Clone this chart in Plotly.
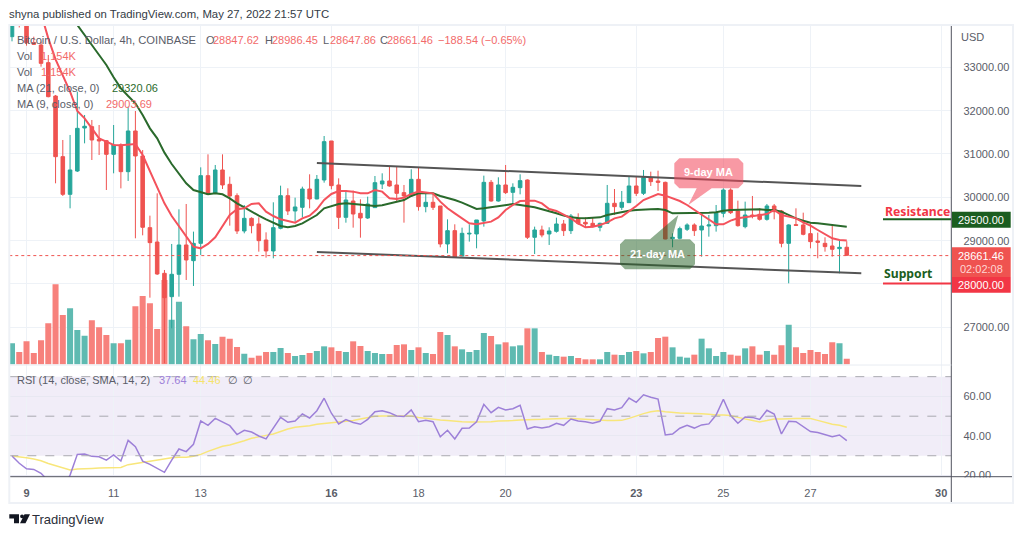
import plotly.graph_objects as go

# Candle data (4h candles, Coinbase BTC/USD)
OPEN = [33708,34600,34000,33569,33515,33108,32338,30939,30069,30607,31600,31631,31340,31308,30992,31208,30592,31531,30954,29300,
28969,28246,27707,28223,28900,28538,28938,30500,30092,30631,30300,30038,29223,29515,29385,29015,28762,29285,30038,29685,
29769,30192,29962,30400,31300,30285,29538,29915,29631,29523,29762,30308,30377,30285,30108,30038,30415,29785,29885,29800,
28923,29231,28646,29154,29154,29454,30346,29915,30285,30115,30223,30400,29077,29246,29154,29215,29385,29231,29515,29423,
29400,29308,29400,29862,29769,29877,30262,30092,30454,30377,30346,29046,29054,29262,29362,29246,29338,29346,29631,30169,
29685,29323,29592,29608,29492,29800,29685,28938,29369,29362,29162,28992,28938,28877,28815,28847.62]
HIGH = [34800,34800,34100,33708,33592,33285,32362,31323,31439,32438,31900,31785,31669,31323,31669,31246,32092,31992,31092,29577,
30092,28323,28923,29723,29846,29208,30692,30992,30746,30992,30477,30092,29823,29538,29538,29192,29885,30269,30208,29992,
30246,30531,30515,31415,31300,30438,30169,30154,29954,30015,30492,30554,30723,30723,30285,30646,30685,30092,30092,29800,
29492,29377,29300,29377,29477,30500,30400,30462,30746,30323,30531,30415,29323,29346,29308,29531,29477,29615,29631,29538,
29531,29415,30285,30192,30146,30477,30477,30631,30592,30615,30362,29169,29323,29400,29400,29646,29592,29823,30208,30208,
29923,29900,30031,29746,29846,29846,29708,29377,29746,29646,29400,29185,29077,29338,29015,28986.45]
LOW = [33600,33920,33500,33515,33015,32308,30323,30031,29746,30584,31246,30861,30977,30169,30554,30207,30377,29054,29123,27684,
28208,26169,26977,27707,28092,27954,28669,30054,30077,30192,29346,29154,29169,29169,28746,28608,28592,29262,29592,29438,
29538,29746,29954,30338,30185,29269,29415,29300,29069,29500,29762,30192,30246,29900,29415,30038,29692,29654,29708,28846,
28708,28600,28646,28977,28823,29323,29900,29900,30077,29862,30069,29038,28692,29077,28900,29185,29108,29154,29361,29300,
29308,29215,29385,29592,29708,29877,30031,30054,30262,30146,29031,28846,29031,29223,29108,28631,29092,29208,29538,29615,
29323,29285,29515,29462,29462,29492,28846,28015,29338,29123,28823,28592,28746,28631,28246,28647.86]
CLOSE = [34600,34000,33569,33530,33092,32323,30938,30069,30631,31592,31640,31323,31300,30992,31208,30592,31531,30954,29308,28954,
28231,27684,28223,28900,28554,28938,30500,30069,30631,30285,30031,29223,29515,29346,29000,28762,29300,30038,29685,29777,
30192,29962,30415,31285,30269,29538,29938,29615,29523,29846,30338,30377,30262,30092,30031,30415,29785,29885,29769,28923,
29231,28615,29169,29169,29477,30346,29915,30285,30108,30231,30385,29077,29246,29131,29223,29385,29231,29569,29400,29385,
29323,29400,29862,29785,29885,30262,30092,30454,30362,30346,29038,29077,29277,29362,29231,29338,29362,29646,30169,29646,
29346,29592,29569,29492,29800,29669,28938,29362,29354,29146,28977,28962,28862,28800,28846,28661.46]

# Volume bars, in units of about 68 BTC
VOLUME = [63,37,69,34,72,123,240,148,168,103,86,132,111,88,63,63,74,174,205,183,
106,253,134,188,114,75,91,72,61,83,77,52,32,20,26,37,37,49,34,25,
28,34,40,54,51,40,37,69,55,40,34,31,31,58,60,43,51,34,31,97,
88,54,45,37,43,94,85,60,66,54,57,108,108,37,29,25,23,25,19,15,
15,15,37,29,28,37,40,33,37,79,83,51,23,20,29,77,48,25,37,29,
26,48,54,29,40,29,57,119,51,34,43,37,31,66,63,17]

MA9 = [None,None,None,None,34246,33669,33185,32823,32438,31992,31823,31592,31361,31284,31208,31200,31223,31231,30977,30592,
30208,29861,29569,29323,29092,28861,28823,28923,29077,29338,29592,29723,29746,29846,29861,29669,29569,29492,29454,29415,
29515,29577,29723,29938,30077,30146,30146,30131,30092,30092,30169,30131,29977,29962,29992,30077,30131,30115,30092,29900,
29746,29631,29515,29400,29377,29415,29438,29538,29708,29823,29915,29923,29923,29861,29731,29685,29592,29515,29400,29308,
29323,29361,29423,29515,29554,29669,29800,29938,30015,30077,30038,29977,29915,29823,29708,29592,29477,29377,29377,29461,
29515,29538,29554,29577,29615,29708,29592,29554,29515,29423,29346,29246,29154,29054,29015,29003.69]
MA21 = [None,None,None,None,None,None,None,None,34208,33969,33746,33515,33285,33054,32769,32515,32338,32169,31900,31592,
31362,31031,30769,30538,30323,30169,30115,30069,30092,30069,29977,29861,29769,29669,29577,29492,29415,29338,29308,29338,
29400,29492,29592,29746,29800,29846,29861,29846,29823,29808,29800,29815,29861,29900,29938,30031,30092,30092,30092,30031,
29992,29938,29877,29800,29731,29746,29769,29785,29823,29846,29823,29800,29769,29723,29685,29631,29577,29538,29523,29515,
29531,29538,29592,29631,29669,29692,29708,29723,29723,29731,29708,29631,29631,29631,29631,29631,29646,29654,29692,29708,
29715,29723,29723,29723,29708,29708,29669,29592,29515,29461,29415,29400,29377,29361,29338,29320.06]

RSI = [29.9,26.2,23.4,23.1,21.1,16.9,13.5,13.5,20.2,30.7,30.9,29.7,29.5,27.8,30.4,27.3,37.8,34.6,27.3,25.6,
23.4,21.6,27.8,33.4,32.1,35.8,47.6,45.4,48.9,47.1,45.2,40.7,42.9,42.0,40.0,38.5,43.9,49.4,46.9,47.6,
51.1,49.1,52.8,59.1,51.5,46.1,48.3,46.8,45.9,48.4,52.3,52.7,51.8,50.1,49.8,53.2,47.2,47.9,47.2,39.6,
42.9,38.5,43.9,44.0,47.2,56.0,51.8,54.5,53.2,53.8,55.5,43.5,44.7,44.0,44.7,46.4,45.4,48.6,47.6,47.2,
46.4,47.4,53.8,53.2,54.3,59.2,57.0,60.8,59.6,58.7,40.5,41.0,43.9,45.4,44.0,45.6,46.1,50.6,58.6,50.3,
46.4,49.6,49.4,48.4,53.0,51.1,41.0,47.4,47.2,44.7,42.2,41.8,40.7,39.6,40.5,37.64]
RSI_SMA = [29.9,29.5,29.0,28.3,27.5,26.1,25.0,23.6,22.8,23.3,23.6,23.6,23.8,23.8,24.0,24.1,25.5,26.1,26.7,27.2,
27.8,28.5,29.0,29.2,29.2,29.7,30.7,32.2,33.7,34.8,35.4,36.4,37.6,38.8,39.7,40.3,41.0,42.4,43.5,44.4,
44.7,45.2,45.9,46.4,46.7,47.1,47.4,47.8,48.6,49.4,50.0,50.1,50.1,50.1,50.1,50.1,49.4,48.9,48.4,48.1,
47.8,47.4,47.2,47.1,47.1,47.1,47.2,47.6,47.6,47.8,48.1,48.1,48.1,48.4,48.6,48.8,48.9,48.8,48.6,48.3,
47.9,47.8,47.8,47.8,47.9,48.9,50.3,51.3,52.3,52.8,52.3,51.8,51.6,51.5,51.5,51.3,51.0,50.6,50.6,50.3,
49.4,48.6,47.8,47.1,47.8,48.6,48.6,48.8,48.8,48.8,48.8,47.9,46.7,45.9,45.4,44.46]

# Channel trend lines
CHANNEL_X = [42, 117]
CHANNEL_UPPER = [30792, 30261]
CHANNEL_LOWER = [28738, 28247]

DAY_TICKS = [2, 14, 26, 44, 56, 68, 86, 98, 110, 128]
DAY_LABELS = ["<b>9</b>", "11", "13", "<b>16</b>", "18", "20", "<b>23</b>", "25", "27", "<b>30</b>"]
PRICE_TICKS = [27000, 28000, 29000, 30000, 31000, 32000, 33000]
PRICE_LABELED = [27000, 29000, 30000, 31000, 32000, 33000]
RSI_TICKS = [20, 40, 60]

UP = "#26a69a"; DOWN = "#ef5350"; UP_V = "#5fbab1"; DOWN_V = "#f7817c"
GRID = "#eef2f7"; AXIS = "#50535e"; TXT = "#5a5d68"; GREEN = "#1b5e20"; RED = "#f23645"
FONT = "Liberation Sans"

W, H = 1024, 536
PL, PR, PT, PV, PB, PF = 9.3, 951.3, 25, 365, 476.7, 503
def px(x): return x / W
def py(y): return 1 - y / H

idx = list(range(len(CLOSE)))
colors = [UP_V if c >= o else DOWN_V for o, c in zip(OPEN, CLOSE)]

fig = go.Figure()
fig.add_trace(go.Bar(x=idx, y=VOLUME, marker=dict(color=colors, line_width=0), xaxis="x", yaxis="y", showlegend=False))
fig.add_trace(go.Scatter(x=CHANNEL_X, y=CHANNEL_UPPER, mode="lines", line=dict(color="#555555", width=2), xaxis="x", yaxis="y2", showlegend=False))
fig.add_trace(go.Scatter(x=CHANNEL_X, y=CHANNEL_LOWER, mode="lines", line=dict(color="#555555", width=2), xaxis="x", yaxis="y2", showlegend=False))
fig.add_trace(go.Candlestick(x=idx, open=OPEN, high=HIGH, low=LOW, close=CLOSE, xaxis="x", yaxis="y2", showlegend=False,
    increasing=dict(line=dict(color=UP, width=1), fillcolor=UP),
    decreasing=dict(line=dict(color=DOWN, width=1), fillcolor=DOWN)))
fig.add_trace(go.Scatter(x=idx, y=MA21, mode="lines", line=dict(color="#2a6a2c", width=2), xaxis="x", yaxis="y2", showlegend=False, connectgaps=False))
fig.add_trace(go.Scatter(x=idx, y=MA9, mode="lines", line=dict(color="#f4525c", width=2), xaxis="x", yaxis="y2", showlegend=False, connectgaps=False))
fig.add_trace(go.Scatter(x=idx, y=RSI_SMA, mode="lines", line=dict(color="#f8e67a", width=1.5), xaxis="x2", yaxis="y3", showlegend=False))
fig.add_trace(go.Scatter(x=idx, y=RSI, mode="lines", line=dict(color="#9d80d8", width=1.5), xaxis="x2", yaxis="y3", showlegend=False))

xrange = [-0.372, 129.4]
shapes = []
def rect(x0, y0, x1, y1, fill, layer="above"):
    shapes.append(dict(type="rect", xref="paper", yref="paper", x0=px(x0), x1=px(x1), y0=py(y0), y1=py(y1),
                       fillcolor=fill, line_width=0, layer=layer))
def hline(x0, x1, y, color, width=1, dash="solid", layer="above"):
    shapes.append(dict(type="line", xref="paper", yref="paper", x0=px(x0), x1=px(x1), y0=py(y), y1=py(y),
                       line=dict(color=color, width=width, dash=dash), layer=layer))
def vline(x, y0, y1, color, width=1):
    shapes.append(dict(type="line", xref="paper", yref="paper", x0=px(x), x1=px(x), y0=py(y0), y1=py(y1),
                       line=dict(color=color, width=width), layer="above"))
def path(points, fill, extra=""):
    d = "M" + " L".join(f"{px(a):.5f},{py(b):.5f}" for a, b in points) + " Z"
    shapes.append(dict(type="path", xref="paper", yref="paper", path=d, fillcolor=fill, line_width=0, layer="above"))

# RSI band and levels
shapes.append(dict(type="rect", xref="x2", yref="y3", x0=xrange[0], x1=xrange[1], y0=30, y1=70,
                   fillcolor="rgba(126,87,194,0.11)", line_width=0, layer="below"))
for lv in (70, 50, 30):
    shapes.append(dict(type="line", xref="x2", yref="y3", x0=xrange[0], x1=xrange[1], y0=lv, y1=lv,
                       line=dict(color="#a9a9b0", width=1, dash="dash"), layer="above"))
# last price dotted line
hline(PL, PR, 255.6, "#ef5350", 1, "dot")
# Resistance / support rules
hline(883, PR, 219.2, GREEN, 2)
hline(883, PR, 283.4, RED, 2)

# callouts
def rounded(x0, y0, x1, y1, r, fill, tail):
    # tail: (base_left_x, base_right_x, tip_x, tip_y, base_y)
    bl, br, tx, ty, by = tail
    pts = [(x0 + r, y0)]
    if by == y0:
        pts += [(bl, y0), (tx, ty), (br, y0)]
    pts += [(x1 - r, y0), (x1, y0 + r), (x1, y1 - r), (x1 - r, y1)]
    if by == y1:
        pts += [(br, y1), (tx, ty), (bl, y1)]
    pts += [(x0 + r, y1), (x0, y1 - r), (x0, y0 + r)]
    path(pts, fill)
rounded(674.3, 158.3, 743.3, 188.3, 5, "rgba(242,70,90,0.55)", (696.7, 711.7, 688.3, 205, 188.3))
rounded(620, 239.3, 695, 269.3, 5, "rgba(40,100,40,0.52)", (650, 671.7, 678.3, 215, 239.3))

# hide lower half of the clipped 20.00 label, frame, axes
rect(952, 477.5, 1012, 502, "#ffffff")
hline(PL, 1013, PB, AXIS, 1)
vline(PR, PT, PF, AXIS, 1)
hline(PL, PR, PV, "#e8ecf2", 1)
shapes.append(dict(type="rect", xref="paper", yref="paper", x0=px(PL), x1=px(1013), y0=py(PT), y1=py(PF),
                   line=dict(color="#eef1f6", width=2), fillcolor="rgba(0,0,0,0)", layer="above"))

# price boxes
rect(952, 211.7, 1010.7, 227.7, GREEN)
rect(952, 247.3, 1010.7, 277, "#ef5350")
rect(952, 277, 1010.7, 292.8, RED)

# logo
path([(9.3, 514.3), (19, 514.3), (19, 523.3), (14, 523.3), (14, 518.5), (9.3, 518.5)], "#131722")
path([(24.5, 514.3), (30, 514.3), (25.5, 523.3), (20, 523.3)], "#131722")
shapes.append(dict(type="circle", xref="paper", yref="paper", x0=px(20.1), x1=px(24), y0=py(518.3), y1=py(514.4),
                   fillcolor="#131722", line_width=0, layer="above"))

ann = []
def text(x, y, s, color=TXT, size=11, anchor="left", font=FONT):
    ann.append(dict(xref="paper", yref="paper", x=px(x), y=py(y), text=s, showarrow=False, xanchor=anchor, yanchor="middle",
                    font=dict(color=color, size=size, family=font), xshift=0, yshift=0, borderpad=0, borderwidth=0))

RT = "#f26a6a"
text(9, 14, "shyna published on TradingView.com, May 27, 2022 21:57 UTC", "#333b45", 11.35)
text(17, 40, "Bitcoin / U.S. Dollar, 4h, COINBASE", TXT, 11.2)
text(205.5, 40, "O", TXT); text(213, 40, "28847.62", RT)
text(265, 40, "H", TXT); text(272, 40, "28986.45", RT)
text(323, 40, "L", TXT); text(329.5, 40, "28647.86", RT)
text(380, 40, "C", TXT); text(387, 40, "28661.46", RT)
text(438, 40, "\u2212188.54 (\u22120.65%)", RT)
text(17, 56, "Vol", TXT); text(41, 56, "1.154K", RT)
text(17, 72, "Vol", TXT); text(41, 72, "1.154K", RT)
text(17, 88, "MA (21, close, 0)", TXT); text(112, 88, "29320.06", "#2a6a2c")
text(17, 104, "MA (9, close, 0)", TXT); text(106, 104, "29003.69", RT)
text(17, 380, "RSI (14, close, SMA, 14, 2)", TXT); text(159, 380, "37.64", "#9d80d8"); text(193, 380, "44.46", "#f5e36b")
text(228, 380, "\u2205", TXT); text(243, 380, "\u2205", TXT)
text(961, 37, "USD", TXT, 11)
text(981.3, 219.7, "29500.00", "#ffffff", 11, "center")
text(981.3, 255.5, "28661.46", "#ffffff", 11, "center")
text(981.3, 269, "02:02:08", "#ffd6d4", 11, "center")
text(981.3, 285, "28000.00", "#ffffff", 11, "center")
text(885, 211, "<b>Resistance</b>", "#f23645", 12.2, "left", "Noto Sans")
text(884, 273.5, "<b>Support</b>", GREEN, 12.2, "left", "Noto Sans")
text(708.8, 172.5, "<b>9-day MA</b>", "#ffffff", 11, "center")
text(657.5, 254, "<b>21-day MA</b>", "#ffffff", 11, "center")
text(32, 519, "TradingView", "#2a2e39", 13)

fig.update_layout(
    width=W, height=H, margin=dict(l=0, r=0, t=0, b=0, pad=0, autoexpand=False),
    paper_bgcolor="#ffffff", plot_bgcolor="#ffffff",
    bargap=0.17, boxgap=0.3, showlegend=False, hovermode=False,
    shapes=shapes, annotations=ann, font=dict(family=FONT, size=11, color=TXT),
    xaxis=dict(domain=[px(PL), px(PR)], range=xrange, anchor="y", tickmode="array", tickvals=DAY_TICKS, ticktext=[""] * len(DAY_TICKS),
               automargin=False, showgrid=True, gridcolor=GRID, gridwidth=1, zeroline=False, showline=False, ticks="", rangeslider=dict(visible=False)),
    yaxis=dict(domain=[py(PV), py(PT)], range=[-2, 1018], automargin=False, showgrid=False, showticklabels=False, zeroline=False, showline=False, ticks=""),
    yaxis2=dict(domain=[py(PV), py(PT)], range=[26130, 33977], overlaying="y", side="right", anchor="x", tickmode="array", automargin=False,
                tickvals=PRICE_TICKS, ticktext=[f"{v:.2f}" if v in PRICE_LABELED else "" for v in PRICE_TICKS],
                showgrid=True, gridcolor=GRID, gridwidth=1, zeroline=False, showline=False, ticks="outside", ticklen=9, tickcolor="rgba(0,0,0,0)",
                tickfont=dict(family=FONT, size=11, color=TXT)),
    xaxis2=dict(domain=[px(PL), px(PR)], range=xrange, anchor="y3", matches="x", tickmode="array", tickvals=DAY_TICKS, ticktext=DAY_LABELS, automargin=False,
                showgrid=True, gridcolor=GRID, gridwidth=1, zeroline=False, showline=False, ticks="outside", ticklen=6, tickcolor="rgba(0,0,0,0)",
                tickfont=dict(family=FONT, size=11, color=TXT)),
    yaxis3=dict(domain=[py(PB), py(PV)], range=[19.4, 75.9], side="right", anchor="x2", tickmode="array", tickvals=RSI_TICKS, automargin=False,
                ticktext=[f"{v:.2f}" for v in RSI_TICKS], showgrid=True, gridcolor="#e8e8f2", gridwidth=1, zeroline=False, showline=False,
                ticks="outside", ticklen=9, tickcolor="rgba(0,0,0,0)", tickfont=dict(family=FONT, size=11, color=TXT)),
)

fig.write_html("out.html", config=dict(displayModeBar=False),
               post_script="document.body.style.margin='0';")
